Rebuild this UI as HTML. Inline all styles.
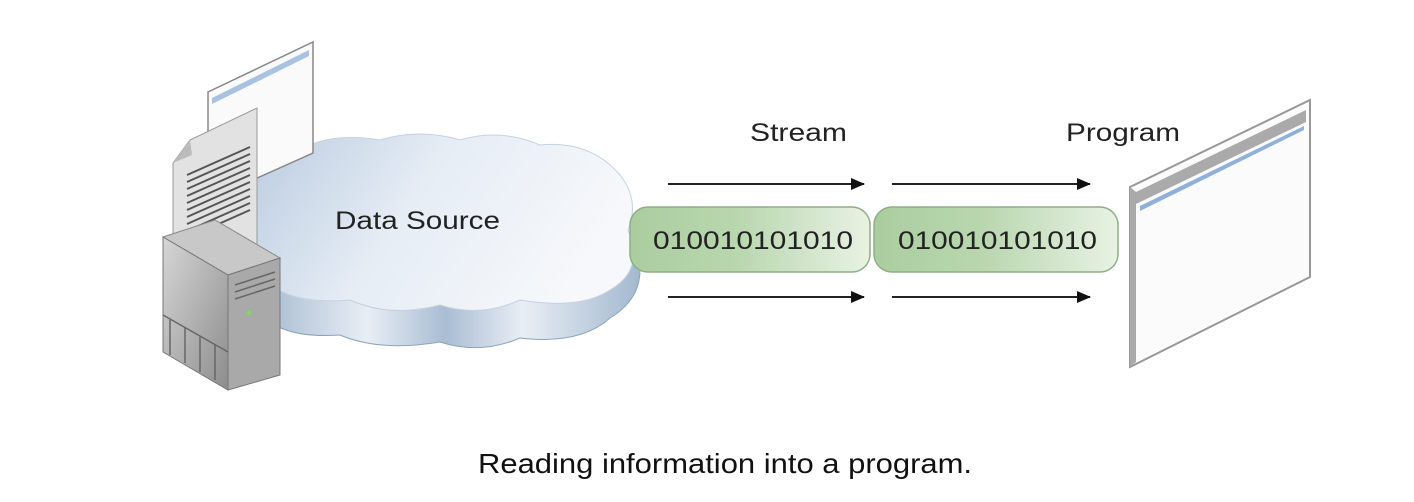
<!DOCTYPE html>
<html><head><meta charset="utf-8"><style>
html,body{margin:0;padding:0;background:#fff;}
svg{display:block;}
text{font-family:"Liberation Sans",Arial,sans-serif;}
</style></head><body>
<svg width="1414" height="502" viewBox="0 0 1414 502" xmlns="http://www.w3.org/2000/svg">
<defs>
<linearGradient id="cl" x1="0" y1="0" x2="1" y2="0.3">
<stop offset="0" stop-color="#b9cbe0"/><stop offset="0.5" stop-color="#e6edf5"/><stop offset="1" stop-color="#f6f8fb"/></linearGradient>
<linearGradient id="cle" x1="0" y1="0" x2="1" y2="0">
<stop offset="0" stop-color="#9fb4cc"/><stop offset="0.3" stop-color="#e8eef5"/><stop offset="0.5" stop-color="#a9bdd3"/><stop offset="0.7" stop-color="#e8eef5"/><stop offset="1" stop-color="#a3b8cf"/></linearGradient>
<linearGradient id="gr" x1="0" y1="0" x2="1" y2="0">
<stop offset="0" stop-color="#aacd9f"/><stop offset="0.45" stop-color="#b9d7af"/><stop offset="1" stop-color="#e8f2e4"/></linearGradient>
<linearGradient id="sv" x1="0" y1="0" x2="1" y2="1">
<stop offset="0" stop-color="#d6d6d6"/><stop offset="1" stop-color="#8d8d8d"/></linearGradient>
<marker id="ah" markerWidth="14" markerHeight="12" refX="13" refY="6" orient="auto" markerUnits="userSpaceOnUse">
<path d="M0,0 L14,6 L0,12 z" fill="#111"/></marker>
</defs>

<path d="M250,250 L250,300 Q270,340 340,335 Q380,352 440,342 Q480,355 520,338 Q580,345 610,318 Q640,300 640,270 L640,240 Z" fill="url(#cle)" stroke="#8ea3bb" stroke-width="1"/>
<path d="M255,200 Q250,160 300,150 Q330,132 380,140 Q420,128 460,140 Q500,128 540,145 Q590,140 620,175 Q640,200 628,230 Q645,270 610,290 Q580,310 520,300 Q480,318 440,305 Q390,318 350,300 Q290,305 265,280 Q235,250 255,200 Z" fill="url(#cl)" stroke="#c5d2e0" stroke-width="1"/>
<text x="335" y="229" font-size="25" fill="#222" textLength="165" lengthAdjust="spacingAndGlyphs">Data Source</text>

<polygon points="208,92 313,42 313,153 208,200" fill="#fafafa" stroke="#888" stroke-width="1.5"/>
<polygon points="212,98 309,50 309,56 212,104" fill="#a8c2e0"/>
<polygon points="173,163 190,140 257,108 257,250 173,280" fill="#e2e2e2" stroke="#999"/>
<polygon points="173,163 190,140 192,155" fill="#bbb"/>
<g stroke="#555" stroke-width="2">
<line x1="187" y1="175" x2="250" y2="147"/><line x1="187" y1="182" x2="250" y2="154"/><line x1="187" y1="189" x2="250" y2="161"/><line x1="187" y1="196" x2="250" y2="168"/><line x1="187" y1="203" x2="250" y2="175"/><line x1="187" y1="210" x2="250" y2="182"/><line x1="187" y1="217" x2="250" y2="189"/><line x1="187" y1="224" x2="250" y2="196"/><line x1="187" y1="231" x2="250" y2="203"/><line x1="187" y1="238" x2="250" y2="210"/>
</g>
<polygon points="163,237 215,220 280,258 228,275" fill="#c8c8c8" stroke="#888"/>
<polygon points="163,237 228,275 228,390 163,352" fill="url(#sv)" stroke="#777"/>
<polygon points="228,275 280,258 280,375 228,390" fill="#a9a9a9" stroke="#777"/>
<g stroke="#666" stroke-width="1.5">
<line x1="235" y1="285" x2="275" y2="272"/><line x1="235" y1="292" x2="275" y2="279"/><line x1="235" y1="299" x2="275" y2="286"/>
<line x1="170" y1="320" x2="170" y2="355"/><line x1="185" y1="328" x2="185" y2="363"/><line x1="200" y1="337" x2="200" y2="372"/><line x1="215" y1="345" x2="215" y2="380"/>
<line x1="163" y1="315" x2="228" y2="352"/>
</g>
<circle cx="249" cy="313" r="2.5" fill="#7fd860"/>

<g stroke="#222" stroke-width="2">
<line x1="668" y1="184" x2="864" y2="184" marker-end="url(#ah)"/>
<line x1="892" y1="184" x2="1090" y2="184" marker-end="url(#ah)"/>
<line x1="668" y1="297" x2="864" y2="297" marker-end="url(#ah)"/>
<line x1="892" y1="297" x2="1090" y2="297" marker-end="url(#ah)"/>
</g>
<text x="750" y="141" font-size="25" fill="#222" textLength="97" lengthAdjust="spacingAndGlyphs">Stream</text>
<text x="1066" y="141" font-size="25" fill="#222" textLength="114" lengthAdjust="spacingAndGlyphs">Program</text>

<rect x="630" y="207" width="240" height="65" rx="18" fill="url(#gr)" stroke="#8fae85" stroke-width="1.5"/>
<rect x="874" y="207" width="244" height="65" rx="18" fill="url(#gr)" stroke="#8fae85" stroke-width="1.5"/>
<text x="653" y="249" font-size="25" fill="#222" textLength="200" lengthAdjust="spacingAndGlyphs">010010101010</text>
<text x="898" y="249" font-size="25" fill="#222" textLength="199" lengthAdjust="spacingAndGlyphs">010010101010</text>

<polygon points="1130,187 1310,100 1310,277 1130,367" fill="#fbfbfb" stroke="#999" stroke-width="2"/>
<polygon points="1130,187 1136,192 1136,362 1130,367" fill="#aaa"/>
<polygon points="1136,192 1306,110 1306,122 1136,204" fill="#aaa"/>
<polygon points="1140,206 1304,126 1304,130 1140,211" fill="#8fb0d8"/>

<text x="478" y="473" font-size="28" fill="#111" textLength="494" lengthAdjust="spacingAndGlyphs">Reading information into a program.</text>
</svg>
</body></html>
